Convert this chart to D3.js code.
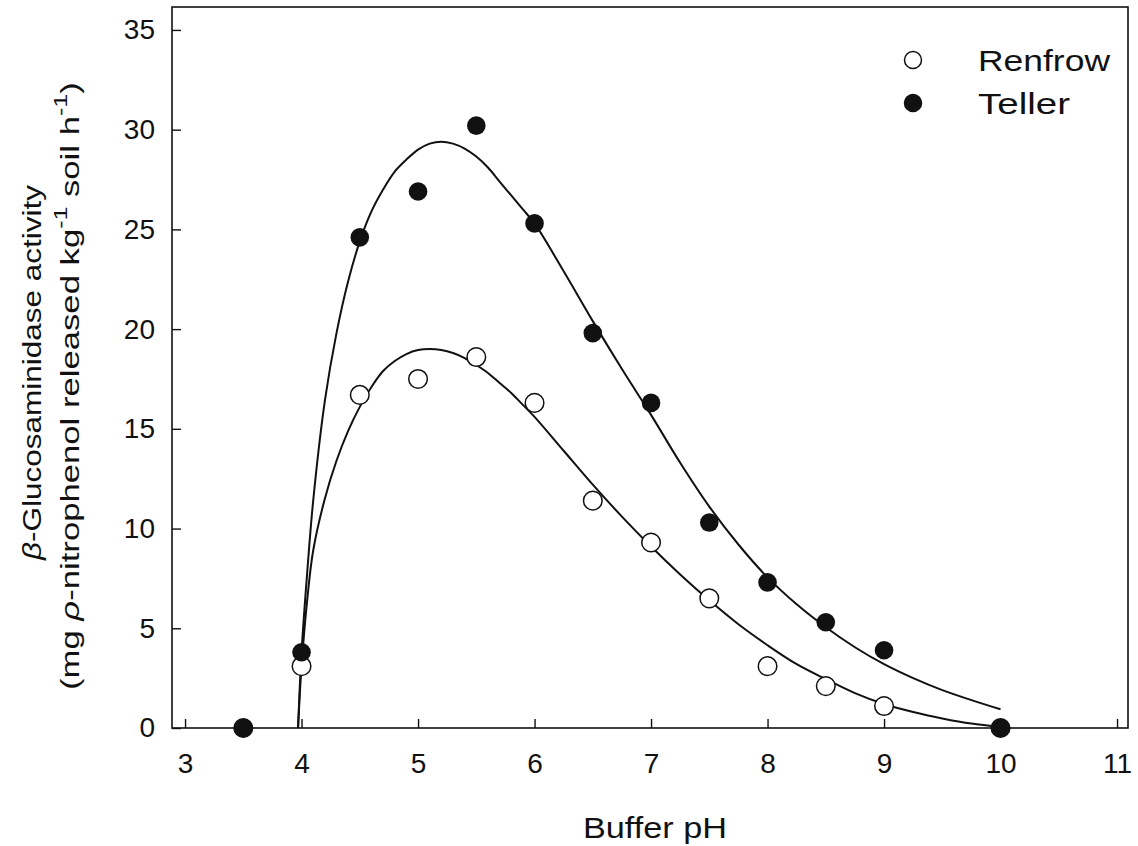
<!DOCTYPE html>
<html>
<head>
<meta charset="utf-8">
<script src="https://cdn.jsdelivr.net/npm/d3@7"></script>
<style>
  html, body { margin: 0; padding: 0; background: #fff; }
  svg { display: block; }
  text { fill: #111; }
</style>
</head>
<body>
<svg id="chart" width="1138" height="846"></svg>
<script>
// Measured activity by buffer pH
const phLevels = [3.5, 4.0, 4.5, 5.0, 5.5, 6.0, 6.5, 7.0, 7.5, 8.0, 8.5, 9.0, 10.0];
const renfrowValues = [0, 3.1, 16.7, 17.5, 18.6, 16.3, 11.4, 9.3, 6.5, 3.1, 2.1, 1.1, 0];
const tellerValues  = [0, 3.8, 24.6, 26.9, 30.2, 25.3, 19.8, 16.3, 10.3, 7.3, 5.3, 3.9, 0];

// Fitted response curves (pH, activity)
const renfrowFitPh  = [3.97, 4.0, 4.05, 4.1, 4.2, 4.3, 4.4, 4.5, 4.6, 4.7, 4.8, 4.9, 5.0, 5.1, 5.2, 5.3, 5.4, 5.5, 5.6, 5.7, 5.8, 5.9, 6.0, 6.25, 6.5, 6.75, 7.0, 7.25, 7.5, 7.75, 8.0, 8.25, 8.5, 8.75, 9.0, 9.25, 9.5, 9.75, 10.0];
const renfrowFitVal = [0, 3.1, 6.5, 8.9, 11.5, 13.4, 14.9, 16.1, 17.1, 17.9, 18.4, 18.75, 18.95, 19.0, 18.95, 18.8, 18.55, 18.2, 17.8, 17.3, 16.8, 16.2, 15.6, 13.9, 12.2, 10.6, 9.1, 7.7, 6.4, 5.2, 4.15, 3.2, 2.45, 1.75, 1.2, 0.8, 0.48, 0.22, 0.05];
const tellerFitPh   = [3.97, 4.0, 4.05, 4.1, 4.2, 4.3, 4.4, 4.5, 4.6, 4.7, 4.8, 4.9, 5.0, 5.1, 5.2, 5.3, 5.4, 5.5, 5.6, 5.7, 5.8, 5.9, 6.0, 6.25, 6.5, 6.75, 7.0, 7.25, 7.5, 7.75, 8.0, 8.25, 8.5, 8.75, 9.0, 9.25, 9.5, 9.75, 10.0];
const tellerFitVal  = [0, 3.8, 7.9, 11.4, 16.4, 19.8, 22.4, 24.4, 25.9, 27.0, 27.9, 28.5, 29.0, 29.3, 29.4, 29.3, 29.05, 28.65, 28.1, 27.4, 26.7, 26.0, 25.3, 22.9, 20.4, 18.0, 15.7, 13.3, 11.1, 9.2, 7.55, 6.2, 5.05, 4.05, 3.2, 2.5, 1.9, 1.4, 0.94];

const xTicks = [3, 4, 5, 6, 7, 8, 9, 10, 11];
const yTicks = [0, 5, 10, 15, 20, 25, 30, 35];
const seriesNames = ["Renfrow", "Teller"];

const svg = d3.select("#chart");
const plot = { left: 172, right: 1128, top: 7, bottom: 728 };

const x = d3.scaleLinear().domain([2.888, 11.094]).range([plot.left, plot.right]);
const y = d3.scaleLinear().domain([0, 36.15]).range([plot.bottom, plot.top]);

const font = "'Liberation Sans', Arial, Helvetica, sans-serif";

// Frame
svg.append("rect")
  .attr("x", plot.left).attr("y", plot.top)
  .attr("width", plot.right - plot.left).attr("height", plot.bottom - plot.top)
  .attr("fill", "none").attr("stroke", "#111").attr("stroke-width", 1.6);

// Bottom axis: inward ticks
const xAxis = svg.append("g").attr("transform", `translate(0,${plot.bottom})`)
  .call(d3.axisBottom(x).tickValues(xTicks).tickSizeInner(-9).tickSizeOuter(0).tickPadding(25));
xAxis.select(".domain").remove();
xAxis.selectAll(".tick line").attr("stroke", "#111").attr("stroke-width", 1.4);
xAxis.selectAll(".tick text").attr("font-family", font).attr("font-size", 28).attr("fill", "#111");

// Left axis: inward ticks
const yAxis = svg.append("g").attr("transform", `translate(${plot.left},0)`)
  .call(d3.axisLeft(y).tickValues(yTicks).tickSizeInner(-9).tickSizeOuter(0).tickPadding(17));
yAxis.select(".domain").remove();
yAxis.selectAll(".tick line").attr("stroke", "#111").attr("stroke-width", 1.4);
yAxis.selectAll(".tick text").attr("font-family", font).attr("font-size", 28).attr("fill", "#111");

// Axis titles
svg.append("text")
  .attr("x", 655).attr("y", 838)
  .attr("text-anchor", "middle")
  .attr("font-family", font).attr("font-size", 29)
  .attr("textLength", 144).attr("lengthAdjust", "spacingAndGlyphs")
  .text("Buffer pH");

// Rotated title line, stretched along its baseline to the given length
function verticalTitle(cx, cy, length, build) {
  const g = svg.append("g").attr("font-family", font).attr("font-size", 25);
  const t = g.append("text").attr("x", 0).attr("y", 0);
  build(t);
  const w = t.node().getBBox().width;
  const s = length / w;
  t.attr("transform", `translate(${cx},${cy + length / 2}) rotate(-90) scale(${s},1)`);
}

verticalTitle(41, 371.5, 377, t => {
  t.append("tspan").attr("font-style", "italic").text("β");
  t.append("tspan").text("-Glucosaminidase activity");
});

verticalTitle(79, 386, 608, t => {
  t.append("tspan").text("(mg ");
  t.append("tspan").attr("font-style", "italic").text("ρ");
  t.append("tspan").text("-nitrophenol released kg");
  t.append("tspan").attr("dy", -12).attr("font-size", 18).text("-1");
  t.append("tspan").attr("dy", 12).text("  soil h");
  t.append("tspan").attr("dy", -12).attr("font-size", 18).text("-1");
  t.append("tspan").attr("dy", 12).text(")");
});

// Fitted curves
const line = d3.line()
  .x(d => x(d[0])).y(d => y(d[1]))
  .curve(d3.curveCatmullRom.alpha(0.5));

const renfrowFit = renfrowFitPh.map((p, i) => [p, renfrowFitVal[i]]);
const tellerFit = tellerFitPh.map((p, i) => [p, tellerFitVal[i]]);

[renfrowFit, tellerFit].forEach(pts => {
  svg.append("path")
    .attr("d", line(pts))
    .attr("fill", "none")
    .attr("stroke", "#111")
    .attr("stroke-width", 2);
});

// Observed points
const r = 9.3;
const renfrowPts = phLevels.map((p, i) => [p, renfrowValues[i]]);
const tellerPts = phLevels.map((p, i) => [p, tellerValues[i]]);

svg.append("g").selectAll("circle").data(renfrowPts).join("circle")
  .attr("cx", d => x(d[0])).attr("cy", d => y(d[1])).attr("r", r)
  .attr("fill", "#fff").attr("stroke", "#111").attr("stroke-width", 1.5);

svg.append("g").selectAll("circle").data(tellerPts).join("circle")
  .attr("cx", d => x(d[0])).attr("cy", d => y(d[1])).attr("r", r)
  .attr("fill", "#111");

// Legend
const legend = svg.append("g").attr("font-family", font).attr("font-size", 30);
seriesNames.forEach((name, i) => {
  const cy = 60 + i * 43;
  legend.append("circle")
    .attr("cx", 913).attr("cy", cy).attr("r", 8.5)
    .attr("fill", i === 0 ? "#fff" : "#111")
    .attr("stroke", "#111").attr("stroke-width", 1.5);
  legend.append("text")
    .attr("x", 978).attr("y", cy + 11)
    .attr("textLength", i === 0 ? 132 : 92).attr("lengthAdjust", "spacingAndGlyphs")
    .text(name);
});
</script>
</body>
</html>
